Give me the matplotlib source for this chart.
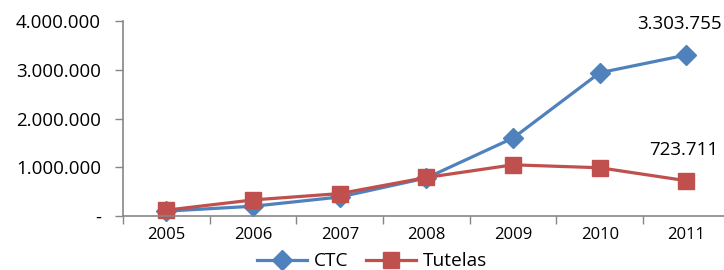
import numpy as np
import matplotlib.pyplot as plt
from matplotlib.ticker import FuncFormatter

# Données
anos = ['2005', '2006', '2007', '2008', '2009', '2010', '2011']
ctc = [100000, 200000, 390000, 780000, 1600000, 2940000, 3303755]
tutelas = [120000, 330000, 460000, 790000, 1050000, 990000, 723711]

azul = '#4F81BD'
vermelho = '#C0504D'
cinza = '#868686'

plt.rcParams['font.family'] = ['Open Sans', 'DejaVu Sans']

fig = plt.figure(figsize=(7.24, 2.70), dpi=100)
ax = fig.add_axes([0.170, 0.200, 0.838, 0.722])

x = np.arange(len(anos))
ax.plot(x, ctc, color=azul, lw=2.3, marker='D', ms=10, label='CTC', clip_on=False)
ax.plot(x, tutelas, color=vermelho, lw=2.3, marker='s', ms=11, label='Tutelas', clip_on=False)

ax.set_xlim(-0.5, len(anos) - 0.5)
ax.set_ylim(0, 4000000)

def fmt(v, pos):
    if v == 0:
        return '-'
    return f'{int(v):,}'.replace(',', '.')

ax.yaxis.set_major_formatter(FuncFormatter(fmt))
ax.set_yticks([0, 1000000, 2000000, 3000000, 4000000])
ax.tick_params(axis='y', labelsize=13.5, length=6, width=1, color=cinza, pad=10)

ax.set_xticks(x)
ax.set_xticklabels(anos)
ax.set_xticks(np.arange(-0.5, len(anos)), minor=True)
ax.tick_params(axis='x', which='major', length=0, labelsize=12, pad=8)
ax.tick_params(axis='x', which='minor', length=6, width=1, color=cinza)

for s in ['top', 'right']:
    ax.spines[s].set_visible(False)
for s in ['left', 'bottom']:
    ax.spines[s].set_color(cinza)
    ax.spines[s].set_linewidth(1.2)

ax.annotate(fmt(ctc[-1], 0), (x[-1], ctc[-1]), xytext=(-5, 22),
            textcoords='offset points', ha='center', va='center', fontsize=13.5)
ax.annotate(fmt(tutelas[-1], 0), (x[-1], tutelas[-1]), xytext=(-2, 22),
            textcoords='offset points', ha='center', va='center', fontsize=13.5)

ax.legend(loc='center', bbox_to_anchor=(0.514, 0.032), bbox_transform=fig.transFigure,
          ncol=2, frameon=False, fontsize=13.8, handlelength=2.6,
          columnspacing=0.9, handletextpad=0.36, borderaxespad=0, borderpad=0)

fig.savefig('out.png', dpi=100)
